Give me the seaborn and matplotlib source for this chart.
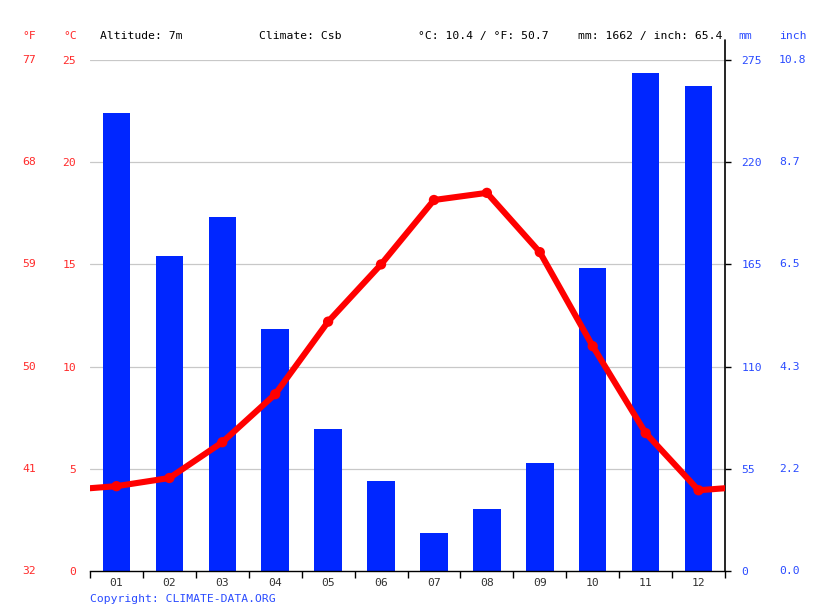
import matplotlib
matplotlib.use("Agg")
import matplotlib.pyplot as plt
import matplotlib.transforms as mtransforms
import seaborn as sns
import pandas as pd

months = ["01", "02", "03", "04", "05", "06", "07", "08", "09", "10", "11", "12"]
precip_mm = [246.5, 169.5, 190.5, 130, 76.5, 48.5, 20.5, 33.5, 58, 163, 268, 261]
temp_c = [4.15, 4.55, 6.3, 8.65, 12.2, 15.0, 18.15, 18.5, 15.6, 11.0, 6.75, 3.95]
c_ticks = [0, 5, 10, 15, 20, 25]
f_labels = ["32", "41", "50", "59", "68", "77"]
mm_ticks = [0, 55, 110, 165, 220, 275]
inch_labels = ["0.0", "2.2", "4.3", "6.5", "8.7", "10.8"]
header = {"alt": "Altitude: 7m", "clim": "Climate: Csb",
          "temp": "°C: 10.4 / °F: 50.7", "prec": "mm: 1662 / inch: 65.4"}

RED = "#ff0000"
LRED = "#ff2a2a"
BLUE = "#0026ff"
LBLUE = "#2a4bff"
FONT = "DejaVu Sans Mono"
FS = 8.2

sns.set_style("white")
plt.rcParams["font.family"] = [FONT, "DejaVu Sans"]

fig = plt.figure(figsize=(8.15, 6.11), dpi=100)
W, H = 815, 611
x0, x1, ytop, ybot = 90, 725, 60, 571
ax2 = fig.add_axes([x0 / W, 1 - ybot / H, (x1 - x0) / W, (ybot - ytop) / H])
ax = ax2.twinx()
ax.set_zorder(ax2.get_zorder() + 1)
ax.patch.set_visible(False)

pos = list(range(12))
dfp = pd.DataFrame({"pos": pos, "mm": precip_mm})
sns.barplot(data=dfp, x="pos", y="mm", native_scale=True, width=0.52,
            color=BLUE, saturation=1, ax=ax2, zorder=2)
for p in ax2.patches:
    p.set_edgecolor("none")

# temperature line wraps around the year
lx = [-1] + pos + [12]
ly = [temp_c[-1]] + temp_c + [temp_c[0]]
dfl = pd.DataFrame({"x": lx, "t": ly})
sns.lineplot(data=dfl, x="x", y="t", color=RED, linewidth=4.4, ax=ax,
             solid_capstyle="round", solid_joinstyle="round")
dfm = pd.DataFrame({"x": pos, "t": temp_c})
sns.scatterplot(data=dfm, x="x", y="t", color=RED, s=55, edgecolor="none", ax=ax, zorder=5)

for a in (ax, ax2):
    a.set_xlim(-0.5, 11.5)
    a.set_xlabel("")
    a.set_ylabel("")
ax.set_ylim(0, 25)
ax2.set_ylim(0, 275)

# grid on precipitation axes (behind bars)
ax2.set_axisbelow(True)
for v in mm_ticks[1:]:
    ax2.axhline(v, color="#c8c8c8", linewidth=0.9, zorder=0)

# x ticks
ax2.set_xticks([i - 0.5 for i in range(13)])
ax2.set_xticklabels([])
ax2.set_xticks(pos, minor=True)
ax2.set_xticklabels(months, minor=True, color="#333333", fontsize=FS)
ax2.tick_params(axis="x", which="major", length=5, width=1, color="black", direction="out", bottom=True)
ax2.tick_params(axis="x", which="minor", length=0, pad=5)
ax.tick_params(axis="x", bottom=False, labelbottom=False)

ax.yaxis.set_ticks_position("left")
ax.yaxis.set_label_position("left")
ax.set_yticks(c_ticks)
ax.set_yticklabels([str(c) for c in c_ticks], color=LRED, fontsize=FS)
ax.tick_params(axis="y", length=0, pad=10)

ax2.yaxis.set_ticks_position("right")
ax2.set_yticks(mm_ticks)
ax2.set_yticklabels([str(m) for m in mm_ticks], color=LBLUE, fontsize=FS)
ax2.tick_params(axis="y", length=4, width=1, color="black", direction="out", pad=8, right=True, left=False)

for a in (ax, ax2):
    for s in a.spines.values():
        s.set_visible(False)
ax2.spines["bottom"].set_visible(True)
ax2.spines["bottom"].set_color("black")
ax2.spines["bottom"].set_linewidth(1)
ax2.axvline(11.5, ymin=0, ymax=1 + 20 / (ybot - ytop), color="black", linewidth=1.2,
            clip_on=False, zorder=10)

# °F and inch labels
trF = mtransforms.blended_transform_factory(ax.transAxes, ax.transData)
for c, f in zip(c_ticks, f_labels):
    ax.text((36 - x0) / (x1 - x0), c, f, color=LRED, fontsize=FS, ha="right", va="center", transform=trF)
trI = mtransforms.blended_transform_factory(ax2.transAxes, ax2.transData)
for m, i in zip(mm_ticks, inch_labels):
    ax2.text((779 - x0) / (x1 - x0), m, i, color=LBLUE, fontsize=FS, ha="left", va="center", transform=trI)

# header
yh = 1 - 36 / H
fig.text(36 / W, yh, "°F", color=LRED, fontsize=FS, ha="right", va="center")
fig.text(77 / W, yh, "°C", color=LRED, fontsize=FS, ha="right", va="center")
fig.text(100 / W, yh, header["alt"], color="black", fontsize=FS, ha="left", va="center")
fig.text(259 / W, yh, header["clim"], color="black", fontsize=FS, ha="left", va="center")
fig.text(418 / W, yh, header["temp"], color="black", fontsize=FS, ha="left", va="center")
fig.text(722 / W, yh, header["prec"], color="black", fontsize=FS, ha="right", va="center")
fig.text(738 / W, yh, "mm", color=LBLUE, fontsize=FS, ha="left", va="center")
fig.text(779 / W, yh, "inch", color=LBLUE, fontsize=FS, ha="left", va="center")
fig.text(90 / W, 1 - 599 / H, "Copyright: CLIMATE-DATA.ORG", color=LBLUE, fontsize=FS,
         ha="left", va="center")

fig.savefig("out.png", dpi=100)
